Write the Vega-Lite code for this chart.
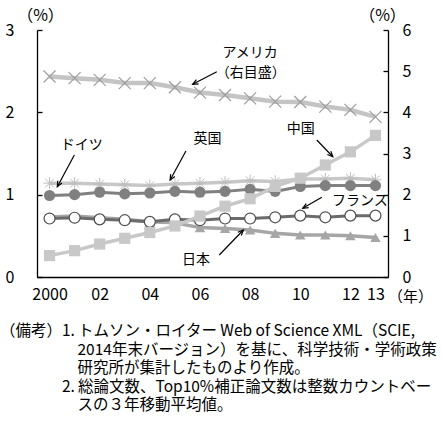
{
  "$schema": "https://vega.github.io/schema/vega-lite/v6.json",
  "width": 351,
  "height": 247,
  "autosize": "none",
  "padding": {"left": 37, "top": 30, "right": 54, "bottom": 146},
  "config": {
    "view": {"stroke": null},
    "font": "Noto Sans CJK JP",
    "axis": {
      "labelFont": "Noto Sans CJK JP",
      "labelFontSize": 16,
      "labelColor": "black",
      "titleFont": "Noto Sans CJK JP",
      "titleFontSize": 16,
      "titleFontWeight": "normal",
      "titleColor": "black",
      "domainColor": "black",
      "domainWidth": 1.3,
      "tickColor": "black",
      "tickWidth": 1.3,
      "grid": false
    }
  },
  "datasets": {
    "series": [
      {"country": "アメリカ", "year": 2000, "value": 4.87},
      {"country": "アメリカ", "year": 2001, "value": 4.83},
      {"country": "アメリカ", "year": 2002, "value": 4.79},
      {"country": "アメリカ", "year": 2003, "value": 4.71},
      {"country": "アメリカ", "year": 2004, "value": 4.71},
      {"country": "アメリカ", "year": 2005, "value": 4.61},
      {"country": "アメリカ", "year": 2006, "value": 4.48},
      {"country": "アメリカ", "year": 2007, "value": 4.42},
      {"country": "アメリカ", "year": 2008, "value": 4.34},
      {"country": "アメリカ", "year": 2009, "value": 4.26},
      {"country": "アメリカ", "year": 2010, "value": 4.25},
      {"country": "アメリカ", "year": 2011, "value": 4.14},
      {"country": "アメリカ", "year": 2012, "value": 4.06},
      {"country": "アメリカ", "year": 2013, "value": 3.89},
      {"country": "英国", "year": 2000, "value": 1.14},
      {"country": "英国", "year": 2001, "value": 1.14},
      {"country": "英国", "year": 2002, "value": 1.13},
      {"country": "英国", "year": 2003, "value": 1.12},
      {"country": "英国", "year": 2004, "value": 1.11},
      {"country": "英国", "year": 2005, "value": 1.13},
      {"country": "英国", "year": 2006, "value": 1.14},
      {"country": "英国", "year": 2007, "value": 1.15},
      {"country": "英国", "year": 2008, "value": 1.17},
      {"country": "英国", "year": 2009, "value": 1.16},
      {"country": "英国", "year": 2010, "value": 1.19},
      {"country": "英国", "year": 2011, "value": 1.19},
      {"country": "英国", "year": 2012, "value": 1.20},
      {"country": "英国", "year": 2013, "value": 1.18},
      {"country": "日本", "year": 2000, "value": 0.73},
      {"country": "日本", "year": 2001, "value": 0.74},
      {"country": "日本", "year": 2002, "value": 0.72},
      {"country": "日本", "year": 2003, "value": 0.70},
      {"country": "日本", "year": 2004, "value": 0.67},
      {"country": "日本", "year": 2005, "value": 0.66},
      {"country": "日本", "year": 2006, "value": 0.60},
      {"country": "日本", "year": 2007, "value": 0.59},
      {"country": "日本", "year": 2008, "value": 0.57},
      {"country": "日本", "year": 2009, "value": 0.53},
      {"country": "日本", "year": 2010, "value": 0.51},
      {"country": "日本", "year": 2011, "value": 0.51},
      {"country": "日本", "year": 2012, "value": 0.50},
      {"country": "日本", "year": 2013, "value": 0.48},
      {"country": "フランス", "year": 2000, "value": 0.71},
      {"country": "フランス", "year": 2001, "value": 0.72},
      {"country": "フランス", "year": 2002, "value": 0.70},
      {"country": "フランス", "year": 2003, "value": 0.69},
      {"country": "フランス", "year": 2004, "value": 0.67},
      {"country": "フランス", "year": 2005, "value": 0.70},
      {"country": "フランス", "year": 2006, "value": 0.69},
      {"country": "フランス", "year": 2007, "value": 0.71},
      {"country": "フランス", "year": 2008, "value": 0.71},
      {"country": "フランス", "year": 2009, "value": 0.725},
      {"country": "フランス", "year": 2010, "value": 0.745},
      {"country": "フランス", "year": 2011, "value": 0.725},
      {"country": "フランス", "year": 2012, "value": 0.745},
      {"country": "フランス", "year": 2013, "value": 0.745},
      {"country": "ドイツ", "year": 2000, "value": 0.99},
      {"country": "ドイツ", "year": 2001, "value": 1.00},
      {"country": "ドイツ", "year": 2002, "value": 1.03},
      {"country": "ドイツ", "year": 2003, "value": 1.01},
      {"country": "ドイツ", "year": 2004, "value": 1.02},
      {"country": "ドイツ", "year": 2005, "value": 1.04},
      {"country": "ドイツ", "year": 2006, "value": 1.03},
      {"country": "ドイツ", "year": 2007, "value": 1.04},
      {"country": "ドイツ", "year": 2008, "value": 1.065},
      {"country": "ドイツ", "year": 2009, "value": 1.04},
      {"country": "ドイツ", "year": 2010, "value": 1.10},
      {"country": "ドイツ", "year": 2011, "value": 1.11},
      {"country": "ドイツ", "year": 2012, "value": 1.11},
      {"country": "ドイツ", "year": 2013, "value": 1.11},
      {"country": "中国", "year": 2000, "value": 0.26},
      {"country": "中国", "year": 2001, "value": 0.32},
      {"country": "中国", "year": 2002, "value": 0.40},
      {"country": "中国", "year": 2003, "value": 0.47},
      {"country": "中国", "year": 2004, "value": 0.54},
      {"country": "中国", "year": 2005, "value": 0.62},
      {"country": "中国", "year": 2006, "value": 0.74},
      {"country": "中国", "year": 2007, "value": 0.86},
      {"country": "中国", "year": 2008, "value": 0.95},
      {"country": "中国", "year": 2009, "value": 1.10},
      {"country": "中国", "year": 2010, "value": 1.20},
      {"country": "中国", "year": 2011, "value": 1.36},
      {"country": "中国", "year": 2012, "value": 1.52},
      {"country": "中国", "year": 2013, "value": 1.72}
    ],
    "arrows": [
      {"name": "アメリカ", "year": 2005.71, "value": 2.341, "year2": 2006.67, "value2": 2.494, "angle": 242},
      {"name": "ドイツ", "year": 2000.31, "value": 1.097, "year2": 2000.99, "value2": 1.482, "angle": 208},
      {"name": "英国", "year": 2004.81, "value": 1.178, "year2": 2005.44, "value2": 1.53, "angle": 209},
      {"name": "中国", "year": 2011.3, "value": 1.461, "year2": 2010.66, "value2": 1.664, "angle": 136},
      {"name": "フランス", "year": 2010.1, "value": 0.834, "year2": 2010.86, "value2": 0.968, "angle": 240},
      {"name": "日本", "year": 2007.73, "value": 0.571, "year2": 2006.77, "value2": 0.267, "angle": 44}
    ],
    "labels": [
      {"text": "アメリカ", "year": 2008.0, "value": 2.724},
      {"text": "（右目盛）", "year": 2008.03, "value": 2.474},
      {"text": "ドイツ", "year": 2001.28, "value": 1.603},
      {"text": "英国", "year": 2006.3, "value": 1.673},
      {"text": "中国", "year": 2010.02, "value": 1.794},
      {"text": "フランス", "year": 2012.38, "value": 0.923},
      {"text": "日本", "year": 2005.84, "value": 0.206}
    ]
  },
  "data": {"name": "series"},
  "title": {
    "text": [
      "（備考）1.\u2009トムソン・ロイター Web of Science XML（SCIE,",
      "\u200b\u3000\u3000\u3000\u3000\u30002014年末バージョン）を基に、科学技術・学術政策",
      "\u200b\u3000\u3000\u3000\u3000\u3000研究所が集計したものより作成。",
      "\u200b\u3000\u3000\u3000\u30002.\u2009総論文数、Top10%補正論文数は整数カウントベー",
      "\u200b\u3000\u3000\u3000\u3000\u3000スの３年移動平均値。"
    ],
    "orient": "bottom",
    "anchor": "start",
    "frame": "group",
    "dx": -37,
    "offset": 20,
    "font": "Noto Sans CJK JP",
    "fontSize": 15.5,
    "fontWeight": "normal",
    "lineHeight": 18.5,
    "color": "black"
  },
  "encoding": {
    "x": {
      "field": "year",
      "type": "quantitative",
      "scale": {"domain": [1999.5, 2013.5], "nice": false, "zero": false},
      "axis": {
        "values": [2000, 2002, 2004, 2006, 2008, 2010, 2012, 2013],
        "format": "d",
        "labelExpr": "datum.value == 2000 ? '2000' : substring(datum.label, 2)",
        "labelOverlap": false,
        "labelFlush": false,
        "ticks": false,
        "labelPadding": 9,
        "title": "（年）",
        "titleFontSize": 15,
        "titleX": 373,
        "titleY": 19,
        "titleAlign": "center",
        "titleBaseline": "middle"
      }
    }
  },
  "layer": [
    {
      "transform": [{"filter": "datum.country === 'アメリカ'"}],
      "encoding": {
        "y": {
          "field": "value",
          "type": "quantitative",
          "scale": {"domain": [0, 6], "nice": false},
          "axis": {
            "orient": "right",
            "values": [0, 1, 2, 3, 4, 5, 6],
            "tickSize": -5,
            "labelPadding": 19,
            "title": "（%）",
            "titleAngle": 0,
            "titleX": -6,
            "titleY": -15,
            "titleAlign": "center",
            "titleBaseline": "middle"
          }
        }
      },
      "layer": [
        {"mark": {"type": "line", "color": "#c4c4c4", "strokeWidth": 4.5}},
        {"mark": {"type": "point", "shape": "M-1,-1L1,1M-1,1L1,-1", "size": 144, "filled": false, "color": "#9e9e9e", "strokeWidth": 1.2, "opacity": 1}}
      ]
    },
    {
      "encoding": {
        "y": {
          "field": "value",
          "type": "quantitative",
          "scale": {"domain": [0, 3], "nice": false},
          "axis": {
            "orient": "left",
            "values": [0, 1, 2, 3],
            "tickSize": -5,
            "labelPadding": 28,
            "title": "（%）",
            "titleAngle": 0,
            "titleX": 3,
            "titleY": -15,
            "titleAlign": "center",
            "titleBaseline": "middle"
          }
        }
      },
      "layer": [
        {
          "transform": [{"filter": "datum.country === '英国'"}],
          "mark": {"type": "line", "color": "#c8c8c8", "strokeWidth": 3.5}
        },
        {
          "transform": [{"filter": "datum.country === '英国'"}],
          "mark": {"type": "point", "shape": "M-1,0L1,0M0,-1L0,1M-0.7,-0.7L0.7,0.7M-0.7,0.7L0.7,-0.7", "size": 150, "filled": false, "color": "#bdbdbd", "strokeWidth": 1, "opacity": 1}
        },
        {
          "transform": [{"filter": "datum.country === '日本'"}],
          "mark": {"type": "line", "color": "#a6a6a6", "strokeWidth": 3.5}
        },
        {
          "transform": [{"filter": "datum.country === '日本'"}],
          "mark": {"type": "point", "shape": "triangle-up", "size": 110, "filled": true, "color": "#a6a6a6", "opacity": 1}
        },
        {
          "transform": [{"filter": "datum.country === 'フランス'"}],
          "mark": {"type": "line", "color": "#6b6b6b", "strokeWidth": 3}
        },
        {
          "transform": [{"filter": "datum.country === 'フランス'"}],
          "mark": {"type": "point", "shape": "circle", "size": 120, "filled": true, "fill": "white", "stroke": "#505050", "strokeWidth": 1.2, "opacity": 1}
        },
        {
          "transform": [{"filter": "datum.country === 'ドイツ'"}],
          "mark": {"type": "line", "color": "#808080", "strokeWidth": 3}
        },
        {
          "transform": [{"filter": "datum.country === 'ドイツ'"}],
          "mark": {"type": "point", "shape": "circle", "size": 125, "filled": true, "color": "#808080", "opacity": 1}
        },
        {
          "transform": [{"filter": "datum.country === '中国'"}],
          "mark": {"type": "line", "color": "#c8c8c8", "strokeWidth": 3.5}
        },
        {
          "transform": [{"filter": "datum.country === '中国'"}],
          "mark": {"type": "point", "shape": "square", "size": 125, "filled": true, "color": "#c8c8c8", "opacity": 1}
        },
        {
          "data": {"name": "arrows"},
          "mark": {"type": "rule", "color": "black", "strokeWidth": 1.2},
          "encoding": {
            "x2": {"field": "year2"},
            "y2": {"field": "value2"}
          }
        },
        {
          "data": {"name": "arrows"},
          "mark": {"type": "point", "shape": "M-0.4,0.9L0,0L0.4,0.9", "size": 144, "filled": false, "color": "black", "strokeWidth": 1.2, "opacity": 1},
          "encoding": {
            "angle": {"field": "angle", "type": "quantitative", "scale": null}
          }
        },
        {
          "data": {"name": "labels"},
          "mark": {"type": "text", "fontSize": 14, "color": "black", "font": "Noto Sans CJK JP"},
          "encoding": {
            "text": {"field": "text", "type": "nominal"}
          }
        }
      ]
    }
  ],
  "resolve": {"scale": {"y": "independent"}}
}
